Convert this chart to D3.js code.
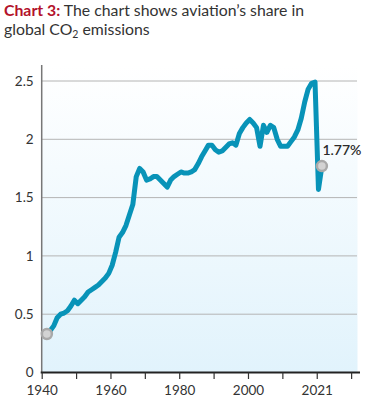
<!DOCTYPE html>
<html><head><meta charset="utf-8">
<script src="https://cdn.jsdelivr.net/npm/d3@7"></script>
<style>body{margin:0;background:#fff}svg{display:block}</style>
</head><body>
<svg id="c" width="365" height="398"></svg>
<script>
const years = d3.range(1941, 2022);
const share = [0.33,0.36,0.40,0.47,0.50,0.51,0.53,0.57,0.62,0.59,
0.62,0.65,0.69,0.71,0.73,0.75,0.78,0.81,0.85,0.92,
1.03,1.16,1.20,1.26,1.35,1.44,1.68,1.75,1.72,1.65,
1.66,1.68,1.68,1.65,1.62,1.59,1.65,1.68,1.70,1.72,
1.71,1.71,1.72,1.74,1.79,1.85,1.90,1.95,1.95,1.91,
1.89,1.90,1.93,1.96,1.97,1.95,2.05,2.10,2.14,2.17,
2.14,2.10,1.94,2.12,2.06,2.12,2.10,2.00,1.94,1.94,
1.94,1.98,2.02,2.08,2.18,2.32,2.43,2.48,2.49,1.57,1.77];
const yTicks = [0,0.5,1,1.5,2,2.5];
const yTickLabels = ["0","0.5","1","1.5","2","2.5"];
const xTickMarks = d3.range(1940, 2031, 10);
const xLabelTicks = [1940,1960,1980,2000,2020];
const xTickLabels = ["1940","1960","1980","2000","2021"];
const endLabel = "1.77%";

const FONT = "Lato, 'Open Sans', sans-serif";
const svg = d3.select("#c");
const L = 41.7, R = 358, T = 65, B = 372.5;
const x = d3.scaleLinear().domain([1940, 2032]).range([L, R]);
const y = d3.scaleLinear().domain([0, 2.5]).range([B, 81]);

// title
const title = svg.append("text").attr("x", 4).attr("y", 16)
  .style("font-family", FONT).style("font-size", "15.8px");
title.append("tspan").attr("fill", "#b3122b").attr("font-weight", "bold").text("Chart 3:");
title.append("tspan").attr("fill", "#333").text(" The chart shows aviation\u2019s share in");
const t2 = svg.append("text").attr("x", 4).attr("y", 34.5)
  .style("font-family", FONT).style("font-size", "15.8px").attr("fill", "#333");
t2.append("tspan").text("global CO");
t2.append("tspan").attr("dy", 3).style("font-size", "10.5px").text("2");
t2.append("tspan").attr("dy", -3).text(" emissions");

// background gradient
const defs = svg.append("defs");
const g = defs.append("linearGradient").attr("id", "bg").attr("x1", 0).attr("y1", 0).attr("x2", 0).attr("y2", 1);
g.append("stop").attr("offset", "0%").attr("stop-color", "#ffffff");
g.append("stop").attr("offset", "100%").attr("stop-color", "#e1f3fc");
svg.append("rect").attr("x", L).attr("y", T).attr("width", 357.5 - L).attr("height", B - T).attr("fill", "url(#bg)");

// gridlines
svg.append("g").selectAll("line").data(yTicks.slice(1)).join("line")
  .attr("x1", L).attr("x2", 357).attr("y1", d => y(d)).attr("y2", d => y(d))
  .attr("stroke", "#b4b4b4").attr("stroke-width", 1);

// y axis
const yAxis = svg.append("g").attr("transform", `translate(${L},0)`)
  .call(d3.axisLeft(y).tickValues(yTicks).tickFormat((d, i) => yTickLabels[i]).tickSize(0).tickPadding(8));
yAxis.select(".domain").remove();
yAxis.selectAll("text").style("font-family", FONT).style("font-size", "13.5px").attr("fill", "#333");
svg.append("line").attr("x1", L).attr("x2", L).attr("y1", T).attr("y2", B).attr("stroke", "#777").attr("stroke-width", 1.5);

// x axis
const xAxisMarks = svg.append("g").attr("transform", `translate(0,${B})`)
  .call(d3.axisBottom(x).tickValues(xTickMarks).tickFormat("").tickSize(6.5).tickSizeOuter(0));
xAxisMarks.select(".domain").attr("stroke", "#222").attr("stroke-width", 2.2).attr("d", `M${L - 1},0H360`);
xAxisMarks.selectAll(".tick line").attr("stroke", "#333").attr("stroke-width", 1.2);
const xAxisLabels = svg.append("g").attr("transform", `translate(0,${B})`)
  .call(d3.axisBottom(x).tickValues(xLabelTicks).tickFormat((d, i) => xTickLabels[i]).tickSize(0).tickPadding(13));
xAxisLabels.select(".domain").remove();
xAxisLabels.selectAll("text").style("font-family", FONT).style("font-size", "13.5px").attr("fill", "#333");

// line
const data = years.map((yr, i) => ({yr, v: share[i]}));
svg.append("path").datum(data)
  .attr("d", d3.line().x(d => x(d.yr + 0.5)).y(d => y(d.v)))
  .attr("fill", "none").attr("stroke", "#0893b8").attr("stroke-width", 5)
  .attr("stroke-linejoin", "round").attr("stroke-linecap", "round");

// end circles
const ends = [data[0], data[data.length - 1]];
svg.append("g").selectAll("circle").data(ends).join("circle")
  .attr("cx", d => x(d.yr + 0.5)).attr("cy", d => y(d.v)).attr("r", 5)
  .attr("fill", "#d3d3d3").attr("stroke", "#a9a9a9").attr("stroke-width", 2.5);

// end label
const last = data[data.length - 1];
svg.append("text").attr("x", x(last.yr + 0.5) + 0.5).attr("y", y(last.v) - 11)
  .style("font-family", FONT).style("font-size", "14px").attr("font-weight", "600")
  .attr("fill", "#2b2b2b").text(endLabel);
</script>
</body></html>
